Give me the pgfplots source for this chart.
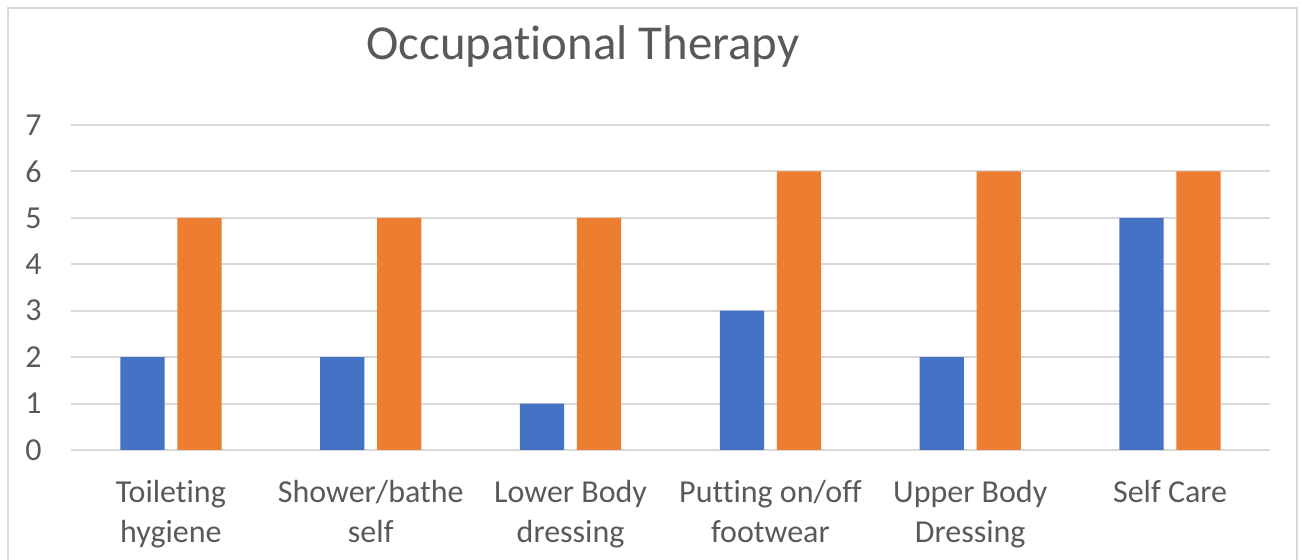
\documentclass[border=0pt]{standalone}
\usepackage{pgfplots}
\pgfplotsset{compat=1.18}
\usepackage{fontspec}
\setmainfont{Carlito}[Ligatures=NoCommon]
\definecolor{cblue}{HTML}{4472C4}
\definecolor{corange}{HTML}{ED7D31}
\definecolor{ctext}{HTML}{595959}
\definecolor{cgrid}{HTML}{D9D9D9}
\begin{document}
\begin{tikzpicture}
\useasboundingbox (0,0) rectangle (651pt,280pt);
\clip (0,0) rectangle (651pt,280pt);
\draw[cgrid, line width=1pt] (4pt,-5pt) -- (4pt,276pt) -- (648.5pt,276pt) -- (648.5pt,-5pt);
\node[anchor=base, text=ctext, font=\fontsize{24.4}{29}\selectfont, inner sep=0pt] at (291.5pt,250pt) {Occupational Therapy};
\begin{axis}[
  at={(35.5pt,55pt)}, anchor=south west,
  scale only axis, width=599.5pt, height=162.5pt,
  xmin=-0.5, xmax=5.5, ymin=0, ymax=7,
  ytick={0,1,2,3,4,5,6,7},
  xtick={0,1,2,3,4,5},
  xticklabels={{Toileting\\hygiene},{Shower/bathe\\self},{Lower Body\\dressing},{Putting on/off\\footwear},{Upper Body\\Dressing},{Self Care}},
  major tick length=0pt,
  axis line style={draw=none},
  ymajorgrids, major grid style={cgrid, line width=1pt},
  /pgf/number format/assume math mode=true,
  every tick label/.append style={text=ctext, font=\fontsize{16}{20}\selectfont, inner sep=0pt},
  yticklabel style={anchor=east, xshift=-14.5pt},
  xticklabel style={align=center, anchor=north, yshift=-15pt},
  ybar, bar width=0.2215,
]
\addplot[fill=cblue, draw=none, bar shift=-0.1425] coordinates {(0,2) (1,2) (2,1) (3,3) (4,2) (5,5)};
\addplot[fill=corange, draw=none, bar shift=0.1425] coordinates {(0,5) (1,5) (2,5) (3,6) (4,6) (5,6)};
\end{axis}
\end{tikzpicture}
\end{document}
